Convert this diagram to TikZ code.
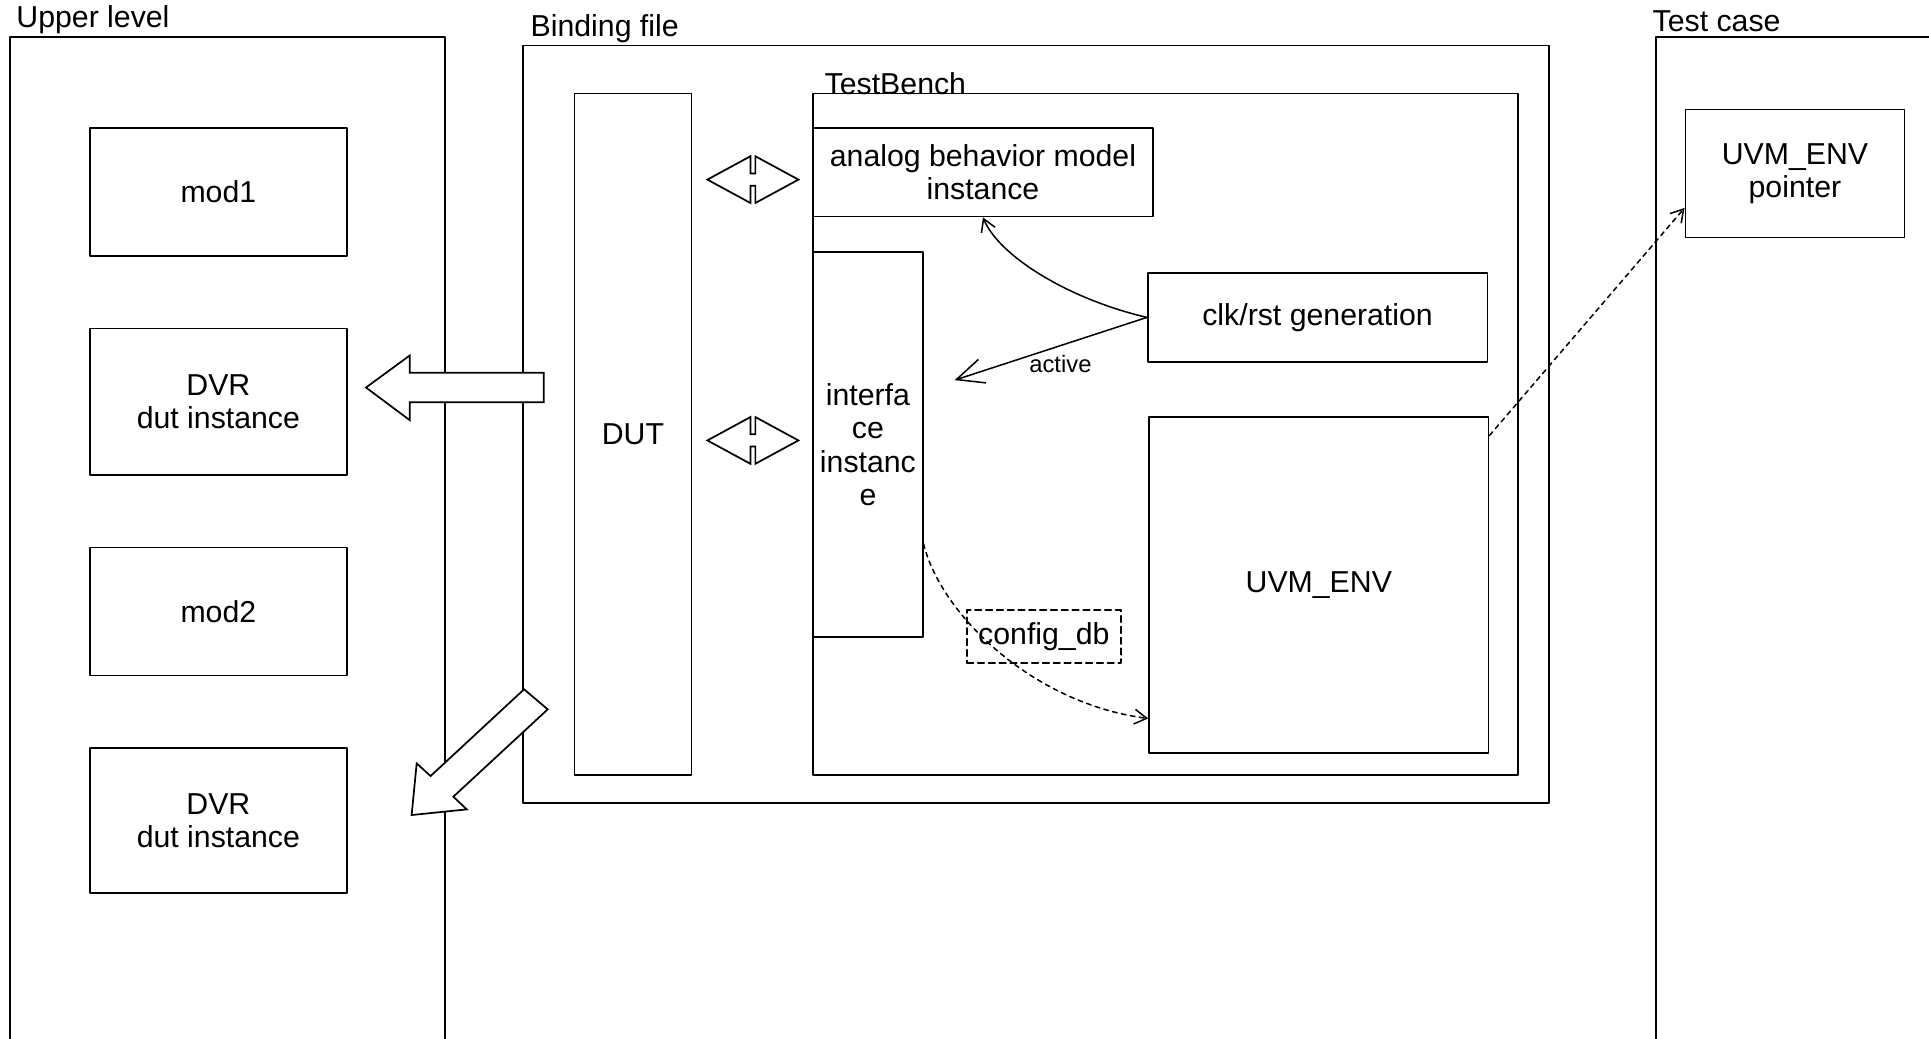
\documentclass[tikz,border=0pt]{standalone}
\usepackage{fontspec}
\setmainfont{Liberation Sans}
\usetikzlibrary{arrows.meta}

\tikzset{
  blk/.style={draw, line width=0.8pt, inner sep=0pt, align=center},
  lbl/.style={anchor=base west, inner sep=0pt},
  fatarrow/.style={draw, line width=0.8pt, fill=white, line join=miter},
  dashlink/.style={line width=0.7pt, dash pattern=on 2.2pt off 2pt},
}

\begin{document}
\begin{tikzpicture}[x=0.2mm, y=-0.2mm, line join=round, line cap=round,
    >={Straight Barb[length=2mm,width=2.4mm]},
    every node/.style={font=\fontsize{14}{15.4}\selectfont}]
    \useasboundingbox (0,0) rectangle (1568,844);

    % 外框
    \draw[line width=0.8pt] (8,844) -- (8,30) -- (362,30) -- (362,844);
    \draw[line width=0.8pt] (1346,844) -- (1346,30) -- (1568,30);
    \node[blk, minimum width=166.8mm, minimum height=123.2mm] (bind) at (842,345) {};

    % 标题
    \node[lbl] (upl) at (13,22) {Upper level};
    \node[lbl] (bfl) at (431,30) {Binding file};
    \node[lbl] (tcl) at (1343,25.5) {Test case};
    \node[lbl] (tbl) at (670,77) {TestBench};

    % 左侧模块
    \node[blk, minimum width=41.8mm, minimum height=20.8mm] (mod1) at (177.5,156) {mod1};
    \node[blk, minimum width=41.8mm, minimum height=23.8mm] (dvr1) at (177.5,326.5) {DVR\\dut instance};
    \node[blk, minimum width=41.8mm, minimum height=20.8mm] (mod2) at (177.5,497) {mod2};
    \node[blk, minimum width=41.8mm, minimum height=23.6mm] (dvr2) at (177.5,667) {DVR\\dut instance};

    % Binding file 内部
    \node[blk, minimum width=19mm, minimum height=110.8mm] (dut) at (514.5,353) {DUT};
    \node[blk, minimum width=114.6mm, minimum height=110.8mm] (tb) at (947.5,353) {};
    \node[blk, minimum width=55.2mm, minimum height=14.4mm] (abm) at (799,140) {analog behavior model\\instance};
    \node[blk, minimum width=17.8mm, minimum height=62.6mm] (iface) at (705.5,361.5) {interfa\\ce\\instanc\\e};
    \node[blk, minimum width=55.2mm, minimum height=14.4mm] (clk) at (1071,258) {clk/rst generation};
    \node[blk, minimum width=55.2mm, minimum height=54.6mm] (uvm) at (1072,475.5) {UVM\_ENV};
    \node[blk, dash pattern=on 3pt off 2pt, minimum width=25mm, minimum height=8.6mm] (cfg) at (848.5,517.5) {config\_db};

    % Test case 内部
    \node[blk, minimum width=35.6mm, minimum height=20.8mm] (ptr) at (1459,141) {UVM\_ENV\\pointer};

    % 空心大箭头
    \draw[fatarrow] (442,303) -- (333,303) -- (333,289) -- (297.5,315)
        -- (333,341.5) -- (333,327) -- (442,327) -- cycle;
    \draw[fatarrow] (426,560.3) -- (350,630.8) -- (338.7,620.5) -- (334.6,662.5)
        -- (379.4,657.9) -- (368.5,647.6) -- (445.2,576.6) -- cycle;
    \foreach \y in {146,358}
        \draw[fatarrow, shift={(612,\y)}] (-37,0) -- (-2,-19) -- (-2,-5) -- (2,-5)
            -- (2,-19) -- (37,0) -- (2,19) -- (2,5) -- (-2,5) -- (-2,19) -- cycle;

    % 连线
    \coordinate (actv) at (776,309);
    \draw[line width=0.7pt, ->] (clk.west) .. controls (868,243) and (812,208) .. (abm.south);
    \draw[line width=0.7pt, -{Straight Barb[length=4.4mm,width=4mm]}] (clk.west) -- (actv)
        node[pos=0.45, below=1pt, font=\fontsize{11}{13}\selectfont] (act) {active};
    \draw[dashlink, ->] (iface.east |- 0,442) .. controls (765,500) and (840,572) .. (uvm.west |- 0,584);
    \draw[dashlink, ->] (uvm.east |- 0,354) -- (ptr.west |- 0,169);
\end{tikzpicture}
\end{document}
